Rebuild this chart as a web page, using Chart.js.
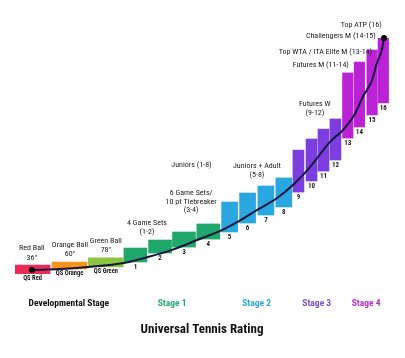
<!DOCTYPE html>
<html>
<head>
<meta charset="utf-8">
<script src="https://cdn.jsdelivr.net/npm/chart.js@4.4.1/dist/chart.umd.min.js"></script>
<style>
  body { margin: 0; background: #fff; }
  #caja { width: 405px; height: 358px; }
</style>
</head>
<body>
<div id="caja"><canvas id="grafico"></canvas></div>
<script>
// ================= DATOS =================
const etiquetasBarras = ["QS Red", "QS Orange", "QS Green",
  "1", "2", "3", "4", "5", "6", "7", "8", "9", "10", "11", "12", "13", "14", "15", "16"];
const posicionX = [4.7, 14.6, 24.3, 32.2, 38.8, 45.2, 51.7, 57.4, 62.2, 67.1, 71.9,
  75.8, 79.3, 82.5, 85.7, 89.0, 92.1, 95.5, 98.5];
const nivelBajo = [0, 2.1, 3.0, 5.1, 8.9, 11.4, 14.8, 17.8, 21.6, 25.0, 28.4,
  34.7, 39.4, 43.6, 48.3, 57.6, 62.3, 67.4, 72.5];
const nivelAlto = [3.8, 5.1, 6.8, 11.0, 14.4, 17.8, 21.2, 30.5, 34.3, 37.3, 40.7,
  52.5, 57.2, 61.4, 65.7, 85.2, 89.8, 94.9, 100];

// curva de progresion
const curvaX = [4.5, 12.0, 19.5, 29.1, 35.6, 42.0, 48.7, 55.3, 59.4, 64.7, 70.1,
  74.9, 78.9, 84.2, 87.7, 90.9, 93.0, 95.5, 96.8, 98.1, 98.7];
const curvaY = [1.7, 2.1, 3.0, 4.7, 7.2, 10.2, 14.4, 18.6, 22.0, 27.1, 32.2,
  38.6, 45.3, 55.9, 61.0, 67.8, 75.0, 82.2, 89.4, 94.9, 100];

// etapas (etiquetas del eje)
const etapas = ["Developmental Stage", "Stage 1", "Stage 2", "Stage 3", "Stage 4"];
const etapasX = [14.4, 42.0, 64.6, 80.7, 93.9];
const coloresEtapas = ["#111111", "#2bab74", "#2fa9da", "#7450c9", "#b330cc"];

// grupos de barras: [inicio, fin]
const grupos = [[0, 3], [3, 7], [7, 11], [11, 15], [15, 19]];
const grosores = [35, 23, 16, 11, 10.5];
const coloresGrupos = [
  ["#ee2a58", "#f7941e", "#8cc540"],
  "#20a86c", "#2aa7e1", "#7d3ee0", "#bb22d6"
];

// textos sobre el grafico
const notas = [
  { x: 4.5, y: 11.0, lineas: ["Red Ball", "36\""], sep: 10 },
  { x: 14.7, y: 12.3, lineas: ["Orange Ball", "60\""], sep: 9.5 },
  { x: 24.3, y: 13.8, lineas: ["Green Ball", "78\""], sep: 9 },
  { x: 35.3, y: 21.6, lineas: ["4 Game Sets", "(1-2)"], sep: 9 },
  { x: 47.1, y: 34.3, lineas: ["6 Game Sets/", "10 pt Tiebreaker", "(3-4)"], sep: 8.5 },
  { x: 47.2, y: 46.2, lineas: ["Juniors (1-8)"], sep: 9 },
  { x: 64.7, y: 45.8, lineas: ["Juniors + Adult", "(5-8)"], sep: 9 },
  { x: 80.2, y: 72.0, lineas: ["Futures W", "(9-12)"], sep: 9 },
  { x: 89.3, y: 88.6, lineas: ["Futures M (11-14)"], alinear: "right" },
  { x: 95.5, y: 94.1, lineas: ["Top WTA / ITA Elite M (13-14)"], alinear: "right" },
  { x: 96.5, y: 100.8, lineas: ["Challengers M (14-15)"], alinear: "right" },
  { x: 98.1, y: 105.5, lineas: ["Top ATP (16)"], alinear: "right" }
];

const FUENTE = "'Liberation Sans Narrow', 'Arial Narrow', 'Roboto Condensed', 'Liberation Sans', sans-serif";

// ================= DATASETS =================
const datasetsBarras = grupos.map((g, i) => {
  const datos = [];
  for (let k = g[0]; k < g[1]; k++) {
    datos.push({ x: posicionX[k], y: [nivelBajo[k], nivelAlto[k]], etiqueta: etiquetasBarras[k] });
  }
  return {
    type: "bar",
    data: datos,
    backgroundColor: coloresGrupos[i],
    barThickness: grosores[i],
    grouped: false,
    order: 1
  };
});

const datasetCurva = {
  type: "line",
  data: curvaX.map((x, i) => ({ x, y: curvaY[i] })),
  borderColor: "#15143a",
  borderWidth: 2,
  cubicInterpolationMode: "monotone",
  pointRadius: ctx => (ctx.dataIndex === 0 || ctx.dataIndex === curvaX.length - 1) ? 3 : 0,
  pointBackgroundColor: "#000",
  pointBorderWidth: 0,
  clip: false,
  order: 0
};

// ================= PLUGIN TEXTOS =================
const textos = {
  id: "textos",
  afterDatasetsDraw(chart) {
    const ctx = chart.ctx;
    const sx = chart.scales.x, sy = chart.scales.y;
    ctx.save();
    ctx.textAlign = "center";
    ctx.textBaseline = "middle";
    ctx.fillStyle = "#1a1a1a";

    // numeros debajo de cada barra (el dataset 0 es la curva)
    datasetsBarras.forEach((ds, i) => {
      const meta = chart.getDatasetMeta(i + 1);
      meta.data.forEach((bar, j) => {
        const abajo = Math.max(bar.y, bar.base);
        const qs = i === 0;
        ctx.font = "bold " + (qs ? 6.5 : 7) + "px " + FUENTE;
        ctx.fillText(ds.data[j].etiqueta, bar.x, abajo + (qs ? 4.5 : 5.5));
      });
    });

    // notas
    ctx.fillStyle = "#222";
    ctx.font = "8px " + FUENTE;
    notas.forEach(n => {
      const px = sx.getPixelForValue(n.x);
      const py = sy.getPixelForValue(n.y);
      ctx.textAlign = n.alinear || "center";
      n.lineas.forEach((t, k) => ctx.fillText(t, px, py + k * (n.sep || 9)));
    });
    ctx.restore();
  }
};

// ================= GRAFICO =================
new Chart(document.getElementById("grafico"), {
  data: { datasets: [datasetCurva, ...datasetsBarras] },
  options: {
    responsive: true,
    maintainAspectRatio: false,
    animation: false,
    layout: { padding: { left: 15, right: 16, top: 38, bottom: 0 } },
    scales: {
      x: {
        type: "linear",
        min: 0,
        max: 100,
        offset: false,
        grid: { display: false, drawTicks: false },
        border: { display: false },
        afterBuildTicks: axis => { axis.ticks = etapasX.map(v => ({ value: v })); },
        ticks: {
          autoSkip: false,
          maxRotation: 0,
          padding: 23.5,
          font: { family: FUENTE, size: 9.5, weight: "bold" },
          color: c => coloresEtapas[c.index] || "#111",
          callback: (v, i) => etapas[i]
        }
      },
      y: { type: "linear", min: 0, max: 100, display: false }
    },
    plugins: {
      legend: { display: false },
      tooltip: { enabled: false },
      title: {
        display: true,
        position: "bottom",
        text: "Universal Tennis Rating",
        color: "#111",
        font: { family: FUENTE, size: 13, weight: "bold" },
        padding: { top: -10, bottom: 20 }
      }
    }
  },
  plugins: [textos]
});
</script>
</body>
</html>
